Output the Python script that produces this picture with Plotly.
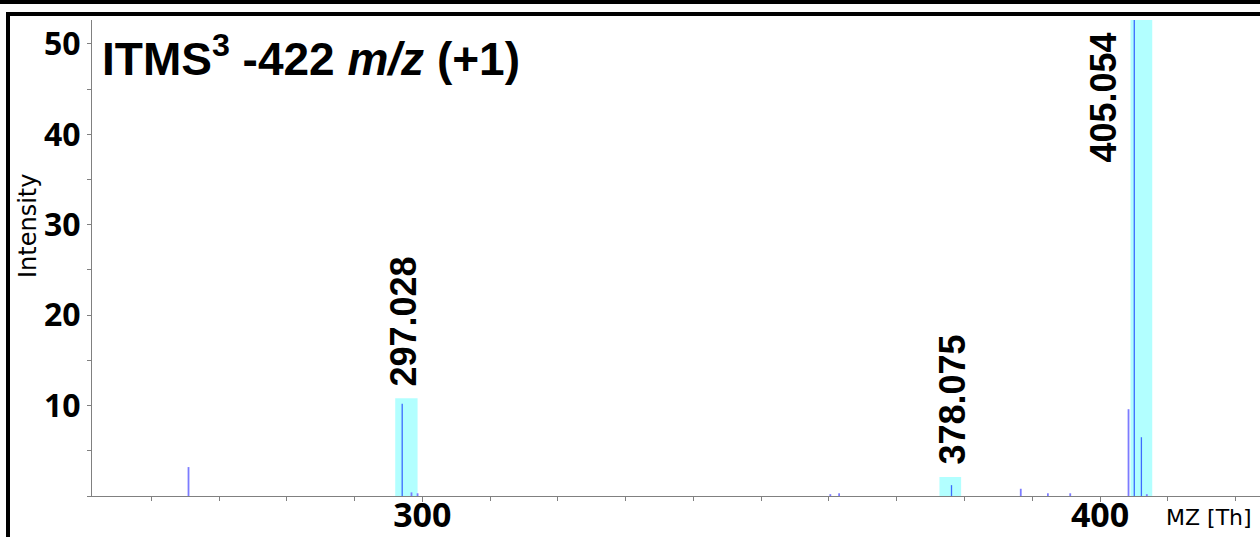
import plotly.graph_objects as go

# ---- data ----
mz = [265.5, 297.03, 298.4, 299.3, 360.2, 361.5, 378.08, 388.3, 392.3, 395.6, 404.2, 405.05, 406.1, 406.9]
intensity = [3.2, 10.2, 0.4, 0.3, 0.2, 0.3, 1.2, 0.8, 0.3, 0.3, 9.6, 100.0, 6.5, 0.2]
major = [False, True, False, False, False, False, True, False, False, False, False, True, True, False]

label_text = ["297.028", "378.075", "405.054"]
label_mz = [297.03, 378.08, 405.05]
box_lo = [296.0, 376.3, 404.5]
box_hi = [299.3, 379.5, 407.7]
box_top = [10.8, 2.1, 60.0]

x_range = [251.26, 423.6]
y_range = [0, 52.65]
y_ticks = [10, 20, 30, 40, 50]
x_ticks = [300, 400]

W, H = 1260, 537
ML, MT, MB = 92, 20, 41
PW, PH = W - ML, H - MT - MB


def px(X):
    return (X - ML) / PW


def py(Y):
    return (H - MB - Y) / PH


fig = go.Figure()

# highlight boxes
for lo, hi, top in zip(box_lo, box_hi, box_top):
    fig.add_shape(type="rect", xref="x", yref="y", x0=lo, x1=hi, y0=0, y1=top,
                  fillcolor="rgba(0,255,255,0.3)", line_width=0, layer="below")


def sticks(sel):
    xs, ys = [], []
    for m, i, s in zip(mz, intensity, major):
        if s == sel:
            xs += [m, m, None]
            ys += [0, i, None]
    return xs, ys


xs, ys = sticks(False)
fig.add_trace(go.Scatter(x=xs, y=ys, mode="lines", line=dict(color="#7c7cff", width=1.8),
                         hoverinfo="skip", showlegend=False, cliponaxis=True))
xs, ys = sticks(True)
fig.add_trace(go.Scatter(x=xs, y=ys, mode="lines", line=dict(color="#3d6bff", width=1.3),
                         hoverinfo="skip", showlegend=False, cliponaxis=True))

label_font = dict(family="Liberation Sans, Arial", size=36, color="black", weight="bold")
# labels for 297 and 378 sit above their boxes; 405 (off-scale) sits to its left
for txt, m, top in zip(label_text[:2], label_mz[:2], box_top[:2]):
    fig.add_annotation(x=m + 0.15, y=top + 1.1, xref="x", yref="y", text=txt, textangle=-90,
                       showarrow=False, xanchor="center", yanchor="bottom", font=label_font)
fig.add_annotation(x=label_mz[2] - 4.6, y=51.5, xref="x", yref="y", text=label_text[2], textangle=-90,
                   showarrow=False, xanchor="center", yanchor="top", font=label_font)

# title
fig.add_annotation(x=px(100), y=py(56), xref="paper", yref="paper",
                   text="ITMS<sup>3</sup> -422 <i>m/z</i> (+1)", showarrow=False,
                   xanchor="left", yanchor="middle",
                   font=dict(family="Liberation Sans, Arial", size=46, color="black", weight="bold"))

# axis titles
fig.add_annotation(x=px(1164), y=py(517), xref="paper", yref="paper", text="MZ [Th]",
                   showarrow=False, xanchor="left", yanchor="middle",
                   font=dict(family="DejaVu Sans", size=22, color="black"))
fig.add_annotation(x=px(28), y=py(226), xref="paper", yref="paper", text="Intensity",
                   textangle=-90, showarrow=False, xanchor="center", yanchor="middle",
                   font=dict(family="DejaVu Sans", size=24, color="black"))

# frame lines
fig.add_shape(type="line", xref="paper", yref="paper", x0=px(0), x1=px(W), y0=py(2), y1=py(2),
              line=dict(color="black", width=4))
fig.add_shape(type="line", xref="paper", yref="paper", x0=px(6), x1=px(W), y0=py(14), y1=py(14),
              line=dict(color="black", width=4))
fig.add_shape(type="line", xref="paper", yref="paper", x0=px(8), x1=px(8), y0=py(12), y1=py(H + 2),
              line=dict(color="black", width=4))

axis_col = "#808080"
fig.update_layout(
    width=W, height=H,
    margin=dict(l=ML, r=0, t=MT, b=MB, pad=0, autoexpand=False),
    paper_bgcolor="white", plot_bgcolor="white",
    showlegend=False,
    xaxis=dict(range=x_range, tickvals=x_ticks, ticks="outside", ticklen=5, tickcolor=axis_col,
               showline=True, linecolor=axis_col, linewidth=1, showgrid=False, zeroline=False,
               automargin=False, ticklabelstandoff=-16,
               minor=dict(dtick=10, tick0=0, ticks="outside", ticklen=4, tickcolor=axis_col),
               tickfont=dict(family="Open Sans", size=34, color="black", weight="bold")),
    yaxis=dict(range=y_range, tickvals=y_ticks, ticks="outside", ticklen=4, tickcolor=axis_col,
               showline=True, linecolor=axis_col, linewidth=1, showgrid=False, zeroline=False,
               automargin=False,
               minor=dict(dtick=5, tick0=0, ticks="outside", ticklen=4, tickcolor=axis_col),
               tickfont=dict(family="Open Sans", size=32, color="black", weight="bold")),
)

fig.write_html("out.html")
